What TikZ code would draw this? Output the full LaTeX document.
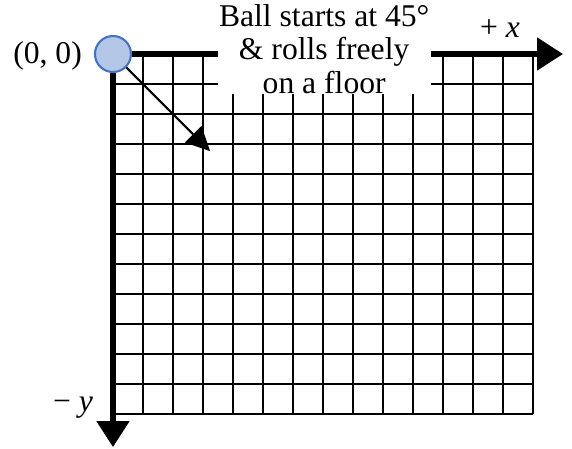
\documentclass[tikz,border=0pt]{standalone}
\usepackage{fontspec}
\setmainfont{Liberation Serif}
\usepackage{tikz}
\usetikzlibrary{arrows.meta, positioning}
\definecolor{ballfill}{HTML}{B4C7E7}
\definecolor{balldraw}{HTML}{4472C4}

\begin{document}
\begin{tikzpicture}[
        font=\fontsize{15}{15.8}\selectfont,
        floorgrid/.style={black, line width=0.6pt},
        axis/.style={line width=2.4pt, -{Triangle[length=0.43cm, width=0.53cm]}},
        ballnode/.style={circle, draw=balldraw, fill=ballfill, line width=1pt,
            minimum size=0.6cm, inner sep=0},
        caption/.style={fill=white, minimum width=3.55cm, align=center, inner sep=0pt},
        dirarr/.style={line width=1pt, -{Triangle[length=0.4cm, width=0.38cm]}}
    ]
        \useasboundingbox (-1.883,0.9) rectangle (7.65,-6.583);
        \draw[floorgrid] (0,-6) grid[step=0.5] (7,0);
        \coordinate (origin) at (0,0);
        \coordinate (xend) at (7.5,0);
        \coordinate (yend) at (0,-6.55);
        \coordinate (dirend) at (1.62,-1.62);
        \draw[axis] (origin) -- (xend);
        \draw[axis] (origin) -- (yend);
        \node[caption, anchor=south] (text) at (3.52,-0.667) {Ball starts at 45°\\ \& rolls freely\\ on a floor};
        \node[ballnode] (ball) at (origin) {};
        \draw[dirarr] (ball) -- (dirend);
        \node (zero) at (-1.09,-0.03) {(0, 0)};
        \node (xlabel) at (6.45,0.43) {+ \textit{x}};
        \node (ylabel) at (-0.667,-5.9) {− \textit{y}};
    \end{tikzpicture}
\end{document}
